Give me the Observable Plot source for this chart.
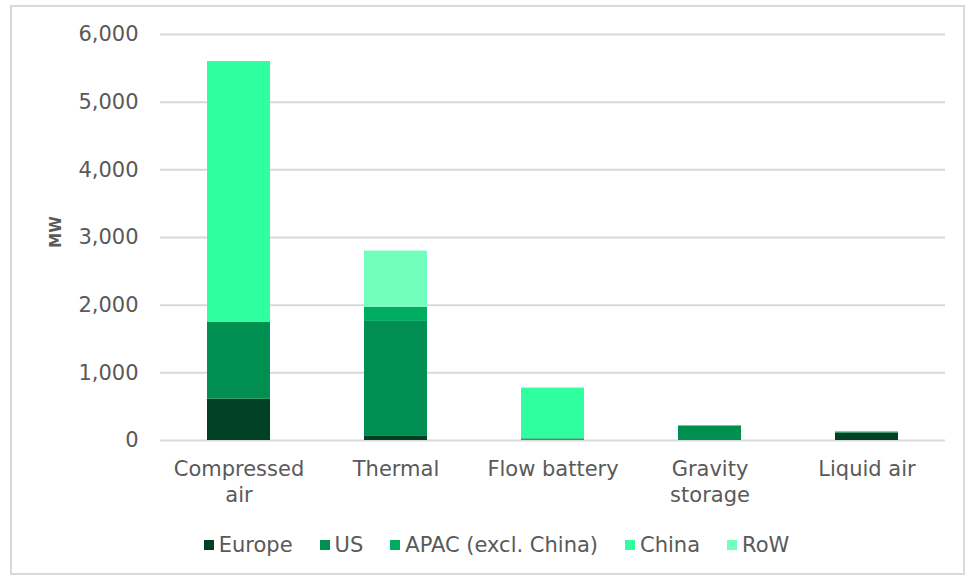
<!DOCTYPE html>
<html>
<head>
<meta charset="utf-8">
<script src="https://cdn.jsdelivr.net/npm/d3@7"></script>
<script src="https://cdn.jsdelivr.net/npm/@observablehq/plot@0.6"></script>
<style>
  html, body { margin: 0; padding: 0; background: #fff; }
  body { width: 975px; height: 580px; position: relative; overflow: hidden; font-family: "DejaVu Sans", Verdana, sans-serif; }
  #frame { position: absolute; left: 10px; top: 5px; width: 955px; height: 570px; border: 2px solid #d9d9d9; box-sizing: border-box; }
  #chart { position: absolute; left: 0; top: 0; }
  #ylabel { position: absolute; left: 56px; top: 232px; transform: translate(-50%, -50%) rotate(-90deg); font-size: 15px; font-weight: bold; color: #595959; white-space: nowrap; line-height: 1; }
  #legend { position: absolute; left: 0; width: 975px; top: 533px; display: flex; justify-content: center; gap: 27px; font-size: 21px; color: #595959; padding-left: 18px; box-sizing: border-box; }
  #legend .item { display: flex; align-items: center; gap: 5px; }
  #legend .sw { width: 10px; height: 10px; display: inline-block; }
</style>
</head>
<body>
<div id="frame"></div>
<div id="chart"></div>
<div id="ylabel"></div>
<div id="legend"></div>
<script>
const categories = ["Compressed air", "Thermal", "Flow battery", "Gravity storage", "Liquid air"];
const categoryLabels = ["Compressed\nair", "Thermal", "Flow battery", "Gravity\nstorage", "Liquid air"];
const regions = ["Europe", "US", "APAC (excl. China)", "China", "RoW"];
const colors = ["#004024", "#008f51", "#00ac5f", "#2fff9e", "#72ffbe"];
const europe = [610, 60, 5, 0, 110];
const us = [1140, 1700, 20, 215, 15];
const apac = [0, 210, 0, 0, 0];
const china = [3850, 0, 750, 0, 0];
const row = [0, 830, 0, 0, 0];
const yTicks = [0, 1000, 2000, 3000, 4000, 5000, 6000];
const yTitle = "MW";

const series = [europe, us, apac, china, row];
const data = [];
regions.forEach((r, i) => {
  categories.forEach((c, j) => {
    data.push({category: c, region: r, value: series[i][j]});
  });
});

const labelOf = Object.fromEntries(categories.map((c, i) => [c, categoryLabels[i]]));

const chart = Plot.plot({
  width: 975,
  height: 520,
  marginTop: 34,
  marginBottom: 80,
  marginLeft: 160,
  marginRight: 30,
  style: {fontFamily: "DejaVu Sans, Verdana, sans-serif", fontSize: "21px", color: "#595959", background: "transparent"},
  x: {domain: categories, paddingInner: 0.6, paddingOuter: 0.3, label: null},
  y: {domain: [0, 6000], label: null},
  color: {domain: regions, range: colors},
  marks: [
    Plot.gridY(yTicks, {stroke: "#d9d9d9", strokeOpacity: 1, strokeWidth: 2}),
    Plot.barY(data, Plot.stackY({x: "category", y: "value", fill: "region", order: null})),
    Plot.axisY({ticks: yTicks, tickSize: 0, tickPadding: 22, tickFormat: d => d3.format(",")(d), fontSize: 21, fill: "#595959"}),
    Plot.axisX({tickSize: 0, tickPadding: 18, tickFormat: d => labelOf[d], fontSize: 21, fill: "#595959", lineHeight: 1.2, textAnchor: "middle"})
  ]
});
document.getElementById("chart").appendChild(chart);
document.getElementById("ylabel").textContent = yTitle;

const legend = document.getElementById("legend");
regions.forEach((r, i) => {
  const it = document.createElement("div");
  it.className = "item";
  const sw = document.createElement("span");
  sw.className = "sw";
  sw.style.background = colors[i];
  const t = document.createElement("span");
  t.textContent = r;
  it.appendChild(sw);
  it.appendChild(t);
  legend.appendChild(it);
});
</script>
</body>
</html>
